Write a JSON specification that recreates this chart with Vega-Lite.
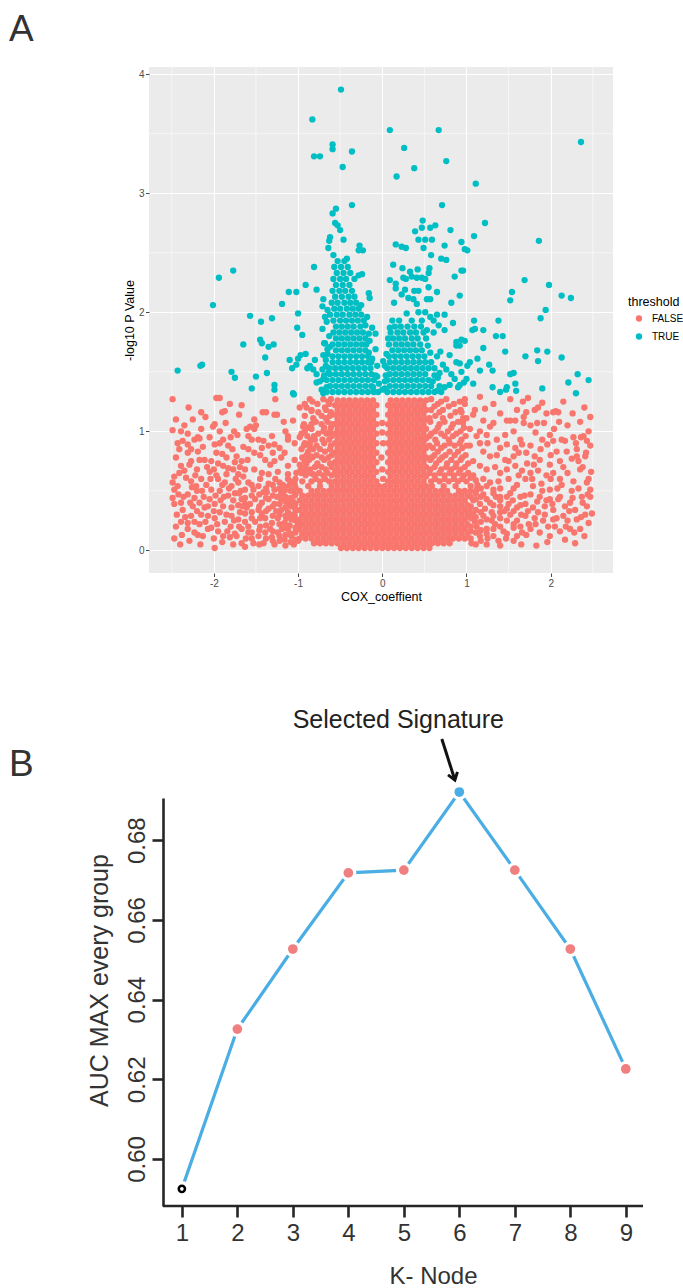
{
"$schema":"https://vega.github.io/schema/vega-lite/v6.json",
"padding":{"left":9,"top":10,"right":5,"bottom":5},
"bounds":"flush",
"spacing":225,
"background":"white",
"config":{"font":"Liberation Sans","view":{"stroke":null}},
"datasets":{
"gx":[{"x":-2.5},{"x":-1.5},{"x":-0.5},{"x":0.5},{"x":1.5},{"x":2.5}],
"gy":[{"y":0.5},{"y":1.5},{"y":2.5},{"y":3.5}],
"auc":[{"k":1,"auc":0.5925},{"k":2,"auc":0.6326},{"k":3,"auc":0.6527},{"k":4,"auc":0.6718},{"k":5,"auc":0.6725},{"k":6,"auc":0.6921},{"k":7,"auc":0.6725},{"k":8,"auc":0.6527},{"k":9,"auc":0.6226}],
"f":[
{"x":-0.49,"y":0.02},{"x":-0.42,"y":0.02},{"x":-0.35,"y":0.02},{"x":-0.28,"y":0.02},{"x":-0.21,"y":0.02},{"x":-0.14,"y":0.02},{"x":-0.07,"y":0.02},{"x":0,"y":0.02},{"x":0.07,"y":0.02},{"x":0.14,"y":0.02},{"x":0.21,"y":0.02},{"x":0.28,"y":0.02},{"x":0.35,"y":0.02},{"x":0.42,"y":0.02},{"x":0.49,"y":0.02},{"x":0.56,"y":0.02},
{"x":-0.81,"y":0.06},{"x":-0.74,"y":0.06},{"x":-0.67,"y":0.06},{"x":-0.6,"y":0.06},{"x":-0.53,"y":0.06},{"x":-0.46,"y":0.06},{"x":-0.39,"y":0.06},{"x":-0.32,"y":0.06},{"x":-0.25,"y":0.06},{"x":-0.18,"y":0.06},{"x":-0.11,"y":0.06},{"x":-0.04,"y":0.06},{"x":0.03,"y":0.06},{"x":0.1,"y":0.06},{"x":0.17,"y":0.06},{"x":0.24,"y":0.06},{"x":0.31,"y":0.06},{"x":0.38,"y":0.06},{"x":0.45,"y":0.06},{"x":0.52,"y":0.06},{"x":0.59,"y":0.06},{"x":0.66,"y":0.06},{"x":0.73,"y":0.06},{"x":0.8,"y":0.06},
{"x":-0.98,"y":0.1},{"x":-0.91,"y":0.1},{"x":-0.84,"y":0.1},{"x":-0.77,"y":0.1},{"x":-0.7,"y":0.1},{"x":-0.63,"y":0.1},{"x":-0.56,"y":0.1},{"x":-0.49,"y":0.1},{"x":-0.42,"y":0.1},{"x":-0.35,"y":0.1},{"x":-0.28,"y":0.1},{"x":-0.21,"y":0.1},{"x":-0.14,"y":0.1},{"x":-0.07,"y":0.1},{"x":0,"y":0.1},{"x":0.07,"y":0.1},{"x":0.14,"y":0.1},{"x":0.21,"y":0.1},{"x":0.28,"y":0.1},{"x":0.35,"y":0.1},{"x":0.42,"y":0.1},{"x":0.49,"y":0.1},{"x":0.56,"y":0.1},{"x":0.63,"y":0.1},{"x":0.7,"y":0.1},{"x":0.77,"y":0.1},{"x":0.84,"y":0.1},{"x":0.91,"y":0.1},{"x":0.98,"y":0.1},
{"x":-0.95,"y":0.14},{"x":-0.88,"y":0.14},{"x":-0.81,"y":0.14},{"x":-0.74,"y":0.14},{"x":-0.67,"y":0.14},{"x":-0.6,"y":0.14},{"x":-0.53,"y":0.14},{"x":-0.46,"y":0.14},{"x":-0.39,"y":0.14},{"x":-0.32,"y":0.14},{"x":-0.25,"y":0.14},{"x":-0.18,"y":0.14},{"x":-0.11,"y":0.14},{"x":-0.04,"y":0.14},{"x":0.03,"y":0.14},{"x":0.1,"y":0.14},{"x":0.17,"y":0.14},{"x":0.24,"y":0.14},{"x":0.31,"y":0.14},{"x":0.38,"y":0.14},{"x":0.45,"y":0.14},{"x":0.52,"y":0.14},{"x":0.59,"y":0.14},{"x":0.66,"y":0.14},{"x":0.73,"y":0.14},{"x":0.8,"y":0.14},{"x":0.87,"y":0.14},{"x":0.94,"y":0.14},{"x":1.01,"y":0.14},
{"x":-0.98,"y":0.18},{"x":-0.91,"y":0.18},{"x":-0.84,"y":0.18},{"x":-0.77,"y":0.18},{"x":-0.7,"y":0.18},{"x":-0.63,"y":0.18},{"x":-0.56,"y":0.18},{"x":-0.49,"y":0.18},{"x":-0.42,"y":0.18},{"x":-0.35,"y":0.18},{"x":-0.28,"y":0.18},{"x":-0.21,"y":0.18},{"x":-0.14,"y":0.18},{"x":-0.07,"y":0.18},{"x":0,"y":0.18},{"x":0.07,"y":0.18},{"x":0.14,"y":0.18},{"x":0.21,"y":0.18},{"x":0.28,"y":0.18},{"x":0.35,"y":0.18},{"x":0.42,"y":0.18},{"x":0.49,"y":0.18},{"x":0.56,"y":0.18},{"x":0.63,"y":0.18},{"x":0.7,"y":0.18},{"x":0.77,"y":0.18},{"x":0.84,"y":0.18},{"x":0.91,"y":0.18},{"x":0.98,"y":0.18},
{"x":-0.95,"y":0.22},{"x":-0.88,"y":0.22},{"x":-0.81,"y":0.22},{"x":-0.74,"y":0.22},{"x":-0.67,"y":0.22},{"x":-0.6,"y":0.22},{"x":-0.53,"y":0.22},{"x":-0.46,"y":0.22},{"x":-0.39,"y":0.22},{"x":-0.32,"y":0.22},{"x":-0.25,"y":0.22},{"x":-0.18,"y":0.22},{"x":-0.11,"y":0.22},{"x":-0.04,"y":0.22},{"x":0.03,"y":0.22},{"x":0.1,"y":0.22},{"x":0.17,"y":0.22},{"x":0.24,"y":0.22},{"x":0.31,"y":0.22},{"x":0.38,"y":0.22},{"x":0.45,"y":0.22},{"x":0.52,"y":0.22},{"x":0.59,"y":0.22},{"x":0.66,"y":0.22},{"x":0.73,"y":0.22},{"x":0.8,"y":0.22},{"x":0.87,"y":0.22},{"x":0.94,"y":0.22},{"x":1.01,"y":0.22},
{"x":-0.98,"y":0.26},{"x":-0.91,"y":0.26},{"x":-0.84,"y":0.26},{"x":-0.77,"y":0.26},{"x":-0.7,"y":0.26},{"x":-0.63,"y":0.26},{"x":-0.56,"y":0.26},{"x":-0.49,"y":0.26},{"x":-0.42,"y":0.26},{"x":-0.35,"y":0.26},{"x":-0.28,"y":0.26},{"x":-0.21,"y":0.26},{"x":-0.14,"y":0.26},{"x":-0.07,"y":0.26},{"x":0,"y":0.26},{"x":0.07,"y":0.26},{"x":0.14,"y":0.26},{"x":0.21,"y":0.26},{"x":0.28,"y":0.26},{"x":0.35,"y":0.26},{"x":0.42,"y":0.26},{"x":0.49,"y":0.26},{"x":0.56,"y":0.26},{"x":0.63,"y":0.26},{"x":0.7,"y":0.26},{"x":0.77,"y":0.26},{"x":0.84,"y":0.26},{"x":0.91,"y":0.26},{"x":0.98,"y":0.26},
{"x":-0.95,"y":0.3},{"x":-0.88,"y":0.3},{"x":-0.81,"y":0.3},{"x":-0.74,"y":0.3},{"x":-0.67,"y":0.3},{"x":-0.6,"y":0.3},{"x":-0.53,"y":0.3},{"x":-0.46,"y":0.3},{"x":-0.39,"y":0.3},{"x":-0.32,"y":0.3},{"x":-0.25,"y":0.3},{"x":-0.18,"y":0.3},{"x":-0.11,"y":0.3},{"x":-0.04,"y":0.3},{"x":0.03,"y":0.3},{"x":0.1,"y":0.3},{"x":0.17,"y":0.3},{"x":0.24,"y":0.3},{"x":0.31,"y":0.3},{"x":0.38,"y":0.3},{"x":0.45,"y":0.3},{"x":0.52,"y":0.3},{"x":0.59,"y":0.3},{"x":0.66,"y":0.3},{"x":0.73,"y":0.3},{"x":0.8,"y":0.3},{"x":0.87,"y":0.3},{"x":0.94,"y":0.3},{"x":1.01,"y":0.3},
{"x":-0.98,"y":0.34},{"x":-0.91,"y":0.34},{"x":-0.84,"y":0.34},{"x":-0.77,"y":0.34},{"x":-0.7,"y":0.34},{"x":-0.63,"y":0.34},{"x":-0.56,"y":0.34},{"x":-0.49,"y":0.34},{"x":-0.42,"y":0.34},{"x":-0.35,"y":0.34},{"x":-0.28,"y":0.34},{"x":-0.21,"y":0.34},{"x":-0.14,"y":0.34},{"x":-0.07,"y":0.34},{"x":0,"y":0.34},{"x":0.07,"y":0.34},{"x":0.14,"y":0.34},{"x":0.21,"y":0.34},{"x":0.28,"y":0.34},{"x":0.35,"y":0.34},{"x":0.42,"y":0.34},{"x":0.49,"y":0.34},{"x":0.56,"y":0.34},{"x":0.63,"y":0.34},{"x":0.7,"y":0.34},{"x":0.77,"y":0.34},{"x":0.84,"y":0.34},{"x":0.91,"y":0.34},{"x":0.98,"y":0.34},
{"x":-0.95,"y":0.38},{"x":-0.88,"y":0.38},{"x":-0.81,"y":0.38},{"x":-0.74,"y":0.38},{"x":-0.67,"y":0.38},{"x":-0.6,"y":0.38},{"x":-0.53,"y":0.38},{"x":-0.46,"y":0.38},{"x":-0.39,"y":0.38},{"x":-0.32,"y":0.38},{"x":-0.25,"y":0.38},{"x":-0.18,"y":0.38},{"x":-0.11,"y":0.38},{"x":-0.04,"y":0.38},{"x":0.03,"y":0.38},{"x":0.1,"y":0.38},{"x":0.17,"y":0.38},{"x":0.24,"y":0.38},{"x":0.31,"y":0.38},{"x":0.38,"y":0.38},{"x":0.45,"y":0.38},{"x":0.52,"y":0.38},{"x":0.59,"y":0.38},{"x":0.66,"y":0.38},{"x":0.73,"y":0.38},{"x":0.8,"y":0.38},{"x":0.87,"y":0.38},{"x":0.94,"y":0.38},{"x":1.01,"y":0.38},
{"x":-0.98,"y":0.42},{"x":-0.91,"y":0.42},{"x":-0.84,"y":0.42},{"x":-0.77,"y":0.42},{"x":-0.7,"y":0.42},{"x":-0.63,"y":0.42},{"x":-0.56,"y":0.42},{"x":-0.49,"y":0.42},{"x":-0.42,"y":0.42},{"x":-0.35,"y":0.42},{"x":-0.28,"y":0.42},{"x":-0.21,"y":0.42},{"x":-0.14,"y":0.42},{"x":-0.07,"y":0.42},{"x":0,"y":0.42},{"x":0.07,"y":0.42},{"x":0.14,"y":0.42},{"x":0.21,"y":0.42},{"x":0.28,"y":0.42},{"x":0.35,"y":0.42},{"x":0.42,"y":0.42},{"x":0.49,"y":0.42},{"x":0.56,"y":0.42},{"x":0.63,"y":0.42},{"x":0.7,"y":0.42},{"x":0.77,"y":0.42},{"x":0.84,"y":0.42},{"x":0.91,"y":0.42},{"x":0.98,"y":0.42},
{"x":-0.95,"y":0.46},{"x":-0.88,"y":0.46},{"x":-0.81,"y":0.46},{"x":-0.74,"y":0.46},{"x":-0.67,"y":0.46},{"x":-0.6,"y":0.46},{"x":-0.53,"y":0.46},{"x":-0.46,"y":0.46},{"x":-0.39,"y":0.46},{"x":-0.32,"y":0.46},{"x":-0.25,"y":0.46},{"x":-0.18,"y":0.46},{"x":-0.11,"y":0.46},{"x":-0.04,"y":0.46},{"x":0.03,"y":0.46},{"x":0.1,"y":0.46},{"x":0.17,"y":0.46},{"x":0.24,"y":0.46},{"x":0.31,"y":0.46},{"x":0.38,"y":0.46},{"x":0.45,"y":0.46},{"x":0.52,"y":0.46},{"x":0.59,"y":0.46},{"x":0.66,"y":0.46},{"x":0.73,"y":0.46},{"x":0.8,"y":0.46},{"x":0.87,"y":0.46},{"x":0.94,"y":0.46},{"x":1.01,"y":0.46},
{"x":-0.98,"y":0.5},{"x":-0.84,"y":0.5},{"x":-0.77,"y":0.5},{"x":-0.7,"y":0.5},{"x":-0.63,"y":0.5},{"x":-0.56,"y":0.5},{"x":-0.49,"y":0.5},{"x":-0.42,"y":0.5},{"x":-0.35,"y":0.5},{"x":-0.28,"y":0.5},{"x":-0.21,"y":0.5},{"x":-0.14,"y":0.5},{"x":-0.07,"y":0.5},{"x":0,"y":0.5},{"x":0.07,"y":0.5},{"x":0.14,"y":0.5},{"x":0.21,"y":0.5},{"x":0.28,"y":0.5},{"x":0.35,"y":0.5},{"x":0.42,"y":0.5},{"x":0.49,"y":0.5},{"x":0.56,"y":0.5},{"x":0.63,"y":0.5},{"x":0.7,"y":0.5},{"x":0.77,"y":0.5},{"x":0.91,"y":0.5},{"x":0.98,"y":0.5},
{"x":-0.88,"y":0.54},{"x":-0.74,"y":0.54},{"x":-0.6,"y":0.54},{"x":-0.53,"y":0.54},{"x":-0.46,"y":0.54},{"x":-0.39,"y":0.54},{"x":-0.32,"y":0.54},{"x":-0.25,"y":0.54},{"x":-0.18,"y":0.54},{"x":-0.11,"y":0.54},{"x":-0.04,"y":0.54},{"x":0.03,"y":0.54},{"x":0.1,"y":0.54},{"x":0.17,"y":0.54},{"x":0.24,"y":0.54},{"x":0.31,"y":0.54},{"x":0.38,"y":0.54},{"x":0.45,"y":0.54},{"x":0.52,"y":0.54},{"x":0.59,"y":0.54},{"x":0.73,"y":0.54},{"x":0.87,"y":0.54},
{"x":-0.56,"y":0.58},{"x":-0.49,"y":0.58},{"x":-0.42,"y":0.58},{"x":-0.35,"y":0.58},{"x":-0.28,"y":0.58},{"x":-0.21,"y":0.58},{"x":-0.14,"y":0.58},{"x":-0.07,"y":0.58},{"x":0.07,"y":0.58},{"x":0.14,"y":0.58},{"x":0.21,"y":0.58},{"x":0.28,"y":0.58},{"x":0.35,"y":0.58},{"x":0.42,"y":0.58},{"x":0.49,"y":0.58},
{"x":-0.53,"y":0.62},{"x":-0.46,"y":0.62},{"x":-0.39,"y":0.62},{"x":-0.32,"y":0.62},{"x":-0.25,"y":0.62},{"x":-0.18,"y":0.62},{"x":-0.11,"y":0.62},{"x":0.1,"y":0.62},{"x":0.17,"y":0.62},{"x":0.24,"y":0.62},{"x":0.31,"y":0.62},{"x":0.38,"y":0.62},{"x":0.45,"y":0.62},{"x":0.52,"y":0.62},
{"x":-0.56,"y":0.66},{"x":-0.49,"y":0.66},{"x":-0.42,"y":0.66},{"x":-0.35,"y":0.66},{"x":-0.28,"y":0.66},{"x":-0.21,"y":0.66},{"x":-0.14,"y":0.66},{"x":-0.07,"y":0.66},{"x":0.07,"y":0.66},{"x":0.14,"y":0.66},{"x":0.21,"y":0.66},{"x":0.28,"y":0.66},{"x":0.35,"y":0.66},{"x":0.42,"y":0.66},{"x":0.49,"y":0.66},
{"x":-0.53,"y":0.7},{"x":-0.46,"y":0.7},{"x":-0.39,"y":0.7},{"x":-0.32,"y":0.7},{"x":-0.25,"y":0.7},{"x":-0.18,"y":0.7},{"x":-0.11,"y":0.7},{"x":0.1,"y":0.7},{"x":0.17,"y":0.7},{"x":0.24,"y":0.7},{"x":0.31,"y":0.7},{"x":0.38,"y":0.7},{"x":0.45,"y":0.7},{"x":0.52,"y":0.7},
{"x":-0.56,"y":0.74},{"x":-0.49,"y":0.74},{"x":-0.42,"y":0.74},{"x":-0.35,"y":0.74},{"x":-0.28,"y":0.74},{"x":-0.21,"y":0.74},{"x":-0.14,"y":0.74},{"x":-0.07,"y":0.74},{"x":0.07,"y":0.74},{"x":0.14,"y":0.74},{"x":0.21,"y":0.74},{"x":0.28,"y":0.74},{"x":0.35,"y":0.74},{"x":0.42,"y":0.74},{"x":0.49,"y":0.74},
{"x":-0.53,"y":0.78},{"x":-0.46,"y":0.78},{"x":-0.39,"y":0.78},{"x":-0.32,"y":0.78},{"x":-0.25,"y":0.78},{"x":-0.18,"y":0.78},{"x":-0.11,"y":0.78},{"x":0.1,"y":0.78},{"x":0.17,"y":0.78},{"x":0.24,"y":0.78},{"x":0.31,"y":0.78},{"x":0.38,"y":0.78},{"x":0.45,"y":0.78},{"x":0.52,"y":0.78},
{"x":-0.56,"y":0.82},{"x":-0.49,"y":0.82},{"x":-0.42,"y":0.82},{"x":-0.35,"y":0.82},{"x":-0.28,"y":0.82},{"x":-0.21,"y":0.82},{"x":-0.14,"y":0.82},{"x":-0.07,"y":0.82},{"x":0.07,"y":0.82},{"x":0.14,"y":0.82},{"x":0.21,"y":0.82},{"x":0.28,"y":0.82},{"x":0.35,"y":0.82},{"x":0.42,"y":0.82},{"x":0.49,"y":0.82},
{"x":-0.53,"y":0.86},{"x":-0.46,"y":0.86},{"x":-0.39,"y":0.86},{"x":-0.32,"y":0.86},{"x":-0.25,"y":0.86},{"x":-0.18,"y":0.86},{"x":-0.11,"y":0.86},{"x":0.1,"y":0.86},{"x":0.17,"y":0.86},{"x":0.24,"y":0.86},{"x":0.31,"y":0.86},{"x":0.38,"y":0.86},{"x":0.45,"y":0.86},{"x":0.52,"y":0.86},
{"x":-0.56,"y":0.9},{"x":-0.49,"y":0.9},{"x":-0.42,"y":0.9},{"x":-0.35,"y":0.9},{"x":-0.28,"y":0.9},{"x":-0.21,"y":0.9},{"x":-0.14,"y":0.9},{"x":-0.07,"y":0.9},{"x":0.07,"y":0.9},{"x":0.14,"y":0.9},{"x":0.21,"y":0.9},{"x":0.28,"y":0.9},{"x":0.35,"y":0.9},{"x":0.42,"y":0.9},{"x":0.49,"y":0.9},
{"x":-0.53,"y":0.94},{"x":-0.46,"y":0.94},{"x":-0.39,"y":0.94},{"x":-0.32,"y":0.94},{"x":-0.25,"y":0.94},{"x":-0.18,"y":0.94},{"x":-0.11,"y":0.94},{"x":0.1,"y":0.94},{"x":0.17,"y":0.94},{"x":0.24,"y":0.94},{"x":0.31,"y":0.94},{"x":0.38,"y":0.94},{"x":0.45,"y":0.94},{"x":0.52,"y":0.94},
{"x":-0.56,"y":0.98},{"x":-0.49,"y":0.98},{"x":-0.42,"y":0.98},{"x":-0.35,"y":0.98},{"x":-0.28,"y":0.98},{"x":-0.21,"y":0.98},{"x":-0.14,"y":0.98},{"x":-0.07,"y":0.98},{"x":0.07,"y":0.98},{"x":0.14,"y":0.98},{"x":0.21,"y":0.98},{"x":0.28,"y":0.98},{"x":0.35,"y":0.98},{"x":0.42,"y":0.98},{"x":0.49,"y":0.98},
{"x":-0.53,"y":1.02},{"x":-0.46,"y":1.02},{"x":-0.39,"y":1.02},{"x":-0.32,"y":1.02},{"x":-0.25,"y":1.02},{"x":-0.18,"y":1.02},{"x":-0.11,"y":1.02},{"x":0.1,"y":1.02},{"x":0.17,"y":1.02},{"x":0.24,"y":1.02},{"x":0.31,"y":1.02},{"x":0.38,"y":1.02},{"x":0.45,"y":1.02},{"x":0.52,"y":1.02},
{"x":-0.56,"y":1.06},{"x":-0.49,"y":1.06},{"x":-0.42,"y":1.06},{"x":-0.35,"y":1.06},{"x":-0.28,"y":1.06},{"x":-0.21,"y":1.06},{"x":-0.14,"y":1.06},{"x":-0.07,"y":1.06},{"x":0.07,"y":1.06},{"x":0.14,"y":1.06},{"x":0.21,"y":1.06},{"x":0.28,"y":1.06},{"x":0.35,"y":1.06},{"x":0.42,"y":1.06},{"x":0.49,"y":1.06},
{"x":-0.53,"y":1.1},{"x":-0.46,"y":1.1},{"x":-0.39,"y":1.1},{"x":-0.32,"y":1.1},{"x":-0.25,"y":1.1},{"x":-0.18,"y":1.1},{"x":-0.11,"y":1.1},{"x":0.1,"y":1.1},{"x":0.17,"y":1.1},{"x":0.24,"y":1.1},{"x":0.31,"y":1.1},{"x":0.38,"y":1.1},{"x":0.45,"y":1.1},{"x":0.52,"y":1.1},
{"x":-0.56,"y":1.14},{"x":-0.49,"y":1.14},{"x":-0.42,"y":1.14},{"x":-0.35,"y":1.14},{"x":-0.28,"y":1.14},{"x":-0.21,"y":1.14},{"x":-0.14,"y":1.14},{"x":-0.07,"y":1.14},{"x":0.07,"y":1.14},{"x":0.14,"y":1.14},{"x":0.21,"y":1.14},{"x":0.28,"y":1.14},{"x":0.35,"y":1.14},{"x":0.42,"y":1.14},{"x":0.49,"y":1.14},
{"x":-0.53,"y":1.18},{"x":-0.46,"y":1.18},{"x":-0.39,"y":1.18},{"x":-0.32,"y":1.18},{"x":-0.25,"y":1.18},{"x":-0.18,"y":1.18},{"x":-0.11,"y":1.18},{"x":0.1,"y":1.18},{"x":0.17,"y":1.18},{"x":0.24,"y":1.18},{"x":0.31,"y":1.18},{"x":0.38,"y":1.18},{"x":0.45,"y":1.18},{"x":0.52,"y":1.18},
{"x":-0.56,"y":1.22},{"x":-0.49,"y":1.22},{"x":-0.42,"y":1.22},{"x":-0.35,"y":1.22},{"x":-0.28,"y":1.22},{"x":-0.21,"y":1.22},{"x":-0.14,"y":1.22},{"x":-0.07,"y":1.22},{"x":0.07,"y":1.22},{"x":0.14,"y":1.22},{"x":0.21,"y":1.22},{"x":0.28,"y":1.22},{"x":0.35,"y":1.22},{"x":0.42,"y":1.22},{"x":0.49,"y":1.22},
{"x":-0.53,"y":1.26},{"x":-0.46,"y":1.26},{"x":-0.39,"y":1.26},{"x":-0.32,"y":1.26},{"x":-0.25,"y":1.26},{"x":-0.18,"y":1.26},{"x":-0.11,"y":1.26},{"x":0.1,"y":1.26},{"x":0.17,"y":1.26},{"x":0.24,"y":1.26},{"x":0.31,"y":1.26},{"x":0.38,"y":1.26},{"x":0.45,"y":1.26},{"x":0.52,"y":1.26},
{"x":0,"y":0.99},{"x":0.01,"y":0.9},{"x":-0.01,"y":0.78},{"x":0,"y":0.68},{"x":0.01,"y":0.6},{"x":0,"y":1.07},
{"x":-0.95,"y":0.58},{"x":-0.84,"y":0.58},{"x":-0.74,"y":0.58},{"x":-0.63,"y":0.58},{"x":-0.91,"y":0.63},{"x":-0.8,"y":0.63},{"x":-0.7,"y":0.63},{"x":-0.6,"y":0.63},{"x":-0.97,"y":0.68},{"x":-0.86,"y":0.68},{"x":-0.67,"y":0.68},{"x":-0.9,"y":0.73},{"x":-0.77,"y":0.73},{"x":-0.62,"y":0.73},{"x":-0.95,"y":0.78},{"x":-0.83,"y":0.78},{"x":-0.72,"y":0.78},{"x":-0.64,"y":0.78},{"x":-0.88,"y":0.83},{"x":-0.68,"y":0.83},{"x":-0.93,"y":0.88},{"x":-0.78,"y":0.88},{"x":-0.61,"y":0.88},{"x":-0.85,"y":0.93},{"x":-0.71,"y":0.93},{"x":-0.63,"y":0.93},{"x":-0.96,"y":0.98},{"x":-0.76,"y":0.98},{"x":-0.66,"y":0.98},{"x":-0.88,"y":1.03},{"x":-0.69,"y":1.03},{"x":-0.61,"y":1.03},{"x":-0.79,"y":1.08},{"x":-0.65,"y":1.08},{"x":-0.92,"y":1.13},{"x":-0.72,"y":1.13},{"x":-0.62,"y":1.13},{"x":-0.84,"y":1.18},{"x":-0.67,"y":1.18},{"x":-0.77,"y":1.23},{"x":-0.63,"y":1.23},{"x":-0.86,"y":1.27},{"x":-0.7,"y":1.27},{"x":-0.61,"y":1.27},
{"x":-0.79,"y":0.6},{"x":-0.68,"y":0.6},{"x":-0.96,"y":0.65},{"x":-0.85,"y":0.65},{"x":-0.75,"y":0.65},{"x":-0.65,"y":0.65},{"x":-0.92,"y":0.7},{"x":-0.8,"y":0.7},{"x":-0.72,"y":0.7},{"x":-0.6,"y":0.7},{"x":-0.87,"y":0.76},{"x":-0.69,"y":0.76},{"x":-0.9,"y":0.8},{"x":-0.78,"y":0.8},{"x":-0.6,"y":0.8},{"x":-0.96,"y":0.85},{"x":-0.82,"y":0.85},{"x":-0.74,"y":0.85},{"x":-0.62,"y":0.85},{"x":-0.86,"y":0.9},{"x":-0.69,"y":0.9},{"x":-0.89,"y":0.96},{"x":-0.81,"y":0.96},{"x":-0.6,"y":0.96},{"x":-0.7,"y":1.0},{"x":-0.62,"y":1.0},{"x":-0.93,"y":1.06},{"x":-0.84,"y":1.06},{"x":-0.72,"y":1.06},{"x":-0.6,"y":1.06},{"x":-0.82,"y":1.11},{"x":-0.67,"y":1.11},{"x":-0.76,"y":1.16},{"x":-0.61,"y":1.16},{"x":-0.9,"y":1.2},{"x":-0.68,"y":1.2},{"x":-0.83,"y":1.25},{"x":-0.64,"y":1.25},
{"x":0.58,"y":0.58},{"x":0.68,"y":0.58},{"x":0.79,"y":0.58},{"x":0.9,"y":0.58},{"x":1.0,"y":0.58},{"x":0.62,"y":0.63},{"x":0.74,"y":0.63},{"x":0.85,"y":0.63},{"x":0.97,"y":0.63},{"x":0.57,"y":0.68},{"x":0.7,"y":0.68},{"x":0.82,"y":0.68},{"x":0.93,"y":0.68},{"x":0.64,"y":0.73},{"x":0.77,"y":0.73},{"x":0.88,"y":0.73},{"x":1.02,"y":0.73},{"x":0.59,"y":0.78},{"x":0.71,"y":0.78},{"x":0.95,"y":0.78},{"x":0.66,"y":0.83},{"x":0.8,"y":0.83},{"x":0.9,"y":0.83},{"x":0.56,"y":0.88},{"x":0.74,"y":0.88},{"x":0.86,"y":0.88},{"x":1.0,"y":0.88},{"x":0.63,"y":0.93},{"x":0.79,"y":0.93},{"x":0.94,"y":0.93},{"x":0.58,"y":0.98},{"x":0.7,"y":0.98},{"x":0.88,"y":0.98},{"x":0.66,"y":1.03},{"x":0.82,"y":1.03},{"x":0.97,"y":1.03},{"x":0.57,"y":1.08},{"x":0.74,"y":1.08},{"x":0.9,"y":1.08},{"x":0.63,"y":1.13},{"x":0.81,"y":1.13},{"x":0.58,"y":1.18},{"x":0.72,"y":1.18},{"x":0.93,"y":1.18},{"x":0.66,"y":1.23},{"x":0.85,"y":1.23},{"x":0.58,"y":1.27},{"x":0.76,"y":1.27},{"x":0.98,"y":1.27},
{"x":0.63,"y":0.6},{"x":0.74,"y":0.6},{"x":0.85,"y":0.6},{"x":0.95,"y":0.6},{"x":0.56,"y":0.65},{"x":0.68,"y":0.65},{"x":0.8,"y":0.65},{"x":0.91,"y":0.65},{"x":1.02,"y":0.65},{"x":0.62,"y":0.7},{"x":0.76,"y":0.7},{"x":0.87,"y":0.7},{"x":0.98,"y":0.7},{"x":0.57,"y":0.76},{"x":0.68,"y":0.76},{"x":0.82,"y":0.76},{"x":0.93,"y":0.76},{"x":0.62,"y":0.8},{"x":0.75,"y":0.8},{"x":0.86,"y":0.8},{"x":0.99,"y":0.8},{"x":0.6,"y":0.86},{"x":0.7,"y":0.86},{"x":0.95,"y":0.86},{"x":0.65,"y":0.9},{"x":0.8,"y":0.9},{"x":0.92,"y":0.9},{"x":0.56,"y":0.96},{"x":0.74,"y":0.96},{"x":0.84,"y":0.96},{"x":0.99,"y":0.96},{"x":0.63,"y":1.0},{"x":0.78,"y":1.0},{"x":0.93,"y":1.0},{"x":0.68,"y":1.06},{"x":0.84,"y":1.06},{"x":0.56,"y":1.11},{"x":0.72,"y":1.11},{"x":0.96,"y":1.11},{"x":0.68,"y":1.16},{"x":0.87,"y":1.16},{"x":0.62,"y":1.21},{"x":0.79,"y":1.21},{"x":0.7,"y":1.25},{"x":0.92,"y":1.25},
{"x":-2.49,"y":1.27},{"x":-1.97,"y":1.28},{"x":-1.93,"y":1.28},{"x":-1.27,"y":1.27},{"x":-0.98,"y":1.2},{"x":-0.92,"y":1.23},{"x":-1.67,"y":1.22},{"x":-1.87,"y":1.17},{"x":-1.9,"y":1.16},{"x":-2.15,"y":1.16},{"x":-1.7,"y":1.14},{"x":-1.42,"y":1.16},{"x":-1.38,"y":1.16},{"x":-1.28,"y":1.14},{"x":-1.25,"y":1.14},{"x":-0.84,"y":1.17},
{"x":-1.52,"y":1.1},{"x":-1.17,"y":1.08},{"x":-1.06,"y":1.09},{"x":-0.81,"y":1.09},{"x":-2.49,"y":1.01},{"x":-2.39,"y":1.0},{"x":-2.31,"y":0.98},{"x":-2.15,"y":1.02},{"x":-2.19,"y":0.95},{"x":-1.99,"y":1.06},{"x":-2.01,"y":1.04},{"x":-1.76,"y":1.0},{"x":-1.61,"y":1.02},{"x":-1.57,"y":1.04},{"x":-1.52,"y":1.02},{"x":-1.5,"y":1.05},{"x":-1.15,"y":1.0},{"x":-1.12,"y":0.96},{"x":-0.94,"y":1.04},{"x":-0.92,"y":1.0},{"x":-0.84,"y":1.02},
{"x":-2.41,"y":0.85},{"x":-2.31,"y":0.89},{"x":-2.23,"y":0.93},{"x":-2.17,"y":0.94},{"x":-2.31,"y":0.82},{"x":-2.27,"y":0.75},{"x":-2.29,"y":0.72},{"x":-2.19,"y":0.83},{"x":-2.17,"y":0.76},{"x":-2.11,"y":0.76},{"x":-2.03,"y":0.75},{"x":-1.95,"y":0.73},{"x":-1.89,"y":0.71},{"x":-1.83,"y":0.69},{"x":-1.77,"y":0.68},{"x":-1.99,"y":0.89},{"x":-1.93,"y":0.9},{"x":-1.89,"y":0.93},{"x":-1.83,"y":0.88},{"x":-1.97,"y":0.82},{"x":-1.9,"y":0.81},{"x":-1.73,"y":0.79},{"x":-1.67,"y":0.75},{"x":-1.63,"y":0.68},{"x":-1.59,"y":0.96},{"x":-1.55,"y":0.93},{"x":-1.47,"y":0.93},{"x":-1.41,"y":0.92},{"x":-1.35,"y":0.88},{"x":-1.31,"y":0.96},{"x":-1.59,"y":0.85},{"x":-1.52,"y":0.82},{"x":-1.43,"y":0.86},{"x":-1.75,"y":0.74},{"x":-1.71,"y":0.64},{"x":-1.28,"y":0.89},{"x":-1.22,"y":0.86},{"x":-1.16,"y":0.82},{"x":-1.12,"y":0.93},{"x":-1.04,"y":0.9},{"x":-0.98,"y":0.95},{"x":-0.92,"y":0.9},{"x":-0.86,"y":0.87},{"x":-0.8,"y":0.93},{"x":-1.39,"y":0.76},{"x":-1.33,"y":0.72},{"x":-1.28,"y":0.75},{"x":-1.2,"y":0.78},{"x":-1.12,"y":0.71},{"x":-1.04,"y":0.76},{"x":-0.98,"y":0.72},{"x":-0.92,"y":0.75},{"x":-0.84,"y":0.79},{"x":-0.78,"y":0.71},{"x":-1.52,"y":0.68},{"x":-1.43,"y":0.65},{"x":-1.35,"y":0.64},{"x":-1.24,"y":0.66},{"x":-1.12,"y":0.64},{"x":-1.02,"y":0.65},{"x":-0.92,"y":0.66},{"x":-0.82,"y":0.64},{"x":-2.39,"y":0.71},{"x":-2.41,"y":0.65},{"x":-2.35,"y":0.67},
{"x":-2.49,"y":0.57},{"x":-2.47,"y":0.51},{"x":-2.43,"y":0.54},{"x":-2.49,"y":0.44},{"x":-2.47,"y":0.39},{"x":-2.39,"y":0.4},{"x":-2.37,"y":0.34},{"x":-2.39,"y":0.24},{"x":-2.31,"y":0.23},{"x":-2.27,"y":0.29},{"x":-2.23,"y":0.24},{"x":-2.17,"y":0.22},{"x":-2.29,"y":0.08},{"x":-2.23,"y":0.15},{"x":-2.13,"y":0.12},{"x":-2.07,"y":0.18},{"x":-2.31,"y":0.18},{"x":-2.33,"y":0.61},{"x":-2.27,"y":0.58},{"x":-2.21,"y":0.54},{"x":-2.15,"y":0.6},{"x":-2.09,"y":0.55},{"x":-2.03,"y":0.51},{"x":-2.31,"y":0.47},{"x":-2.23,"y":0.44},{"x":-2.17,"y":0.4},{"x":-2.25,"y":0.37},{"x":-2.11,"y":0.36},{"x":-2.05,"y":0.43},{"x":-1.99,"y":0.39},{"x":-2.15,"y":0.3},{"x":-2.07,"y":0.29},{"x":-1.99,"y":0.27},{"x":-1.93,"y":0.32},{"x":-1.87,"y":0.24},{"x":-1.79,"y":0.29},{"x":-1.71,"y":0.26},{"x":-2.03,"y":0.19},{"x":-1.95,"y":0.16},{"x":-1.89,"y":0.12},{"x":-1.81,"y":0.11},{"x":-1.73,"y":0.12},{"x":-1.67,"y":0.18},{"x":-1.59,"y":0.15},{"x":-1.95,"y":0.6},{"x":-1.87,"y":0.57},{"x":-1.79,"y":0.54},{"x":-1.71,"y":0.57},{"x":-1.63,"y":0.51},{"x":-1.93,"y":0.5},{"x":-1.83,"y":0.46},{"x":-1.75,"y":0.48},{"x":-1.67,"y":0.43},{"x":-1.89,"y":0.37},{"x":-1.79,"y":0.36},{"x":-1.71,"y":0.38},{"x":-1.61,"y":0.36},{"x":-1.55,"y":0.32},{"x":-1.47,"y":0.34},{"x":-1.59,"y":0.57},{"x":-1.53,"y":0.51},{"x":-1.47,"y":0.54},{"x":-1.41,"y":0.49},{"x":-1.35,"y":0.56},{"x":-1.28,"y":0.51},{"x":-1.22,"y":0.57},{"x":-1.16,"y":0.5},{"x":-1.51,"y":0.43},{"x":-1.43,"y":0.4},{"x":-1.35,"y":0.43},{"x":-1.28,"y":0.39},{"x":-1.2,"y":0.43},{"x":-1.12,"y":0.4},{"x":-1.04,"y":0.46},{"x":-1.51,"y":0.24},{"x":-1.45,"y":0.2},{"x":-1.39,"y":0.27},{"x":-1.31,"y":0.23},{"x":-1.24,"y":0.27},{"x":-1.16,"y":0.23},{"x":-1.08,"y":0.26},{"x":-1.0,"y":0.22},{"x":-1.47,"y":0.12},{"x":-1.39,"y":0.15},{"x":-1.31,"y":0.11},{"x":-1.24,"y":0.15},{"x":-1.16,"y":0.09},{"x":-1.08,"y":0.12},{"x":-1.0,"y":0.08},{"x":-1.53,"y":0.06},{"x":-1.41,"y":0.06},{"x":-1.28,"y":0.05},{"x":-1.12,"y":0.6},{"x":-1.04,"y":0.56},{"x":-1.2,"y":0.34},{"x":-1.12,"y":0.32},{"x":-1.04,"y":0.36},{"x":-1.63,"y":0.24},{"x":-1.59,"y":0.2},{"x":-1.67,"y":0.06},{"x":-1.75,"y":0.14},
{"x":-1.05,"y":0.05},{"x":-1.12,"y":0.18},{"x":-1.03,"y":0.15},{"x":-1.1,"y":0.21},{"x":-1.04,"y":0.29},{"x":-1.14,"y":0.27},{"x":-1.06,"y":0.41},{"x":-1.15,"y":0.45},{"x":-1.05,"y":0.51},{"x":-1.1,"y":0.55},{"x":-1.22,"y":0.08},{"x":-1.19,"y":0.18},{"x":-1.26,"y":0.33},{"x":-1.2,"y":0.48},
{"x":-1.03,"y":0.09},{"x":-1.03,"y":0.19},{"x":-1.03,"y":0.25},{"x":-1.03,"y":0.33},{"x":-1.03,"y":0.39},{"x":-1.03,"y":0.47},{"x":-1.03,"y":0.53},{"x":-1.03,"y":0.6},{"x":-1.09,"y":0.07},{"x":-1.09,"y":0.14},{"x":-1.09,"y":0.3},{"x":-1.09,"y":0.37},{"x":-1.09,"y":0.44},{"x":-1.09,"y":0.5},{"x":-1.09,"y":0.58},{"x":-1.15,"y":0.04},{"x":-1.15,"y":0.13},{"x":-1.15,"y":0.19},{"x":-1.15,"y":0.29},{"x":-1.15,"y":0.36},{"x":-1.15,"y":0.41},{"x":-1.15,"y":0.53},{"x":-1.22,"y":0.12},{"x":-1.22,"y":0.22},{"x":-1.22,"y":0.3},{"x":-1.22,"y":0.39},{"x":-1.22,"y":0.52},{"x":-1.3,"y":0.08},{"x":-1.3,"y":0.16},{"x":-1.3,"y":0.29},{"x":-1.3,"y":0.37},{"x":-1.3,"y":0.46},{"x":-1.3,"y":0.55},{"x":-1.38,"y":0.1},{"x":-1.38,"y":0.21},{"x":-1.38,"y":0.33},{"x":-1.38,"y":0.44},{"x":-1.38,"y":0.52},{"x":-1.46,"y":0.05},{"x":-1.46,"y":0.17},{"x":-1.46,"y":0.37},{"x":-1.46,"y":0.47},{"x":-1.55,"y":0.15},{"x":-1.55,"y":0.27},{"x":-1.55,"y":0.46},{"x":-1.55,"y":0.55},{"x":-1.63,"y":0.03},{"x":-1.63,"y":0.31},{"x":-1.63,"y":0.39},{"x":-1.7,"y":0.2},{"x":-1.7,"y":0.48},
{"x":-2.44,"y":0.3},{"x":-2.36,"y":0.45},{"x":-2.2,"y":0.5},{"x":-2.12,"y":0.45},{"x":-2.0,"y":0.33},{"x":-1.92,"y":0.42},{"x":-1.85,"y":0.3},{"x":-1.77,"y":0.42},{"x":-1.69,"y":0.32},{"x":-1.63,"y":0.44},{"x":-1.57,"y":0.39},{"x":-1.43,"y":0.31},{"x":-1.35,"y":0.35},{"x":-1.37,"y":0.49},{"x":-1.25,"y":0.45},{"x":-1.18,"y":0.55},{"x":-1.33,"y":0.18},{"x":-1.45,"y":0.27},{"x":-1.55,"y":0.1},{"x":-1.8,"y":0.2},{"x":-2.0,"y":0.1},{"x":-2.1,"y":0.24},{"x":-2.38,"y":0.13},{"x":-2.45,"y":0.2},{"x":-1.9,"y":0.07},{"x":-1.62,"y":0.1},{"x":-1.27,"y":0.6},{"x":-1.45,"y":0.6},{"x":-1.65,"y":0.62},{"x":-1.85,"y":0.64},{"x":-2.05,"y":0.66},{"x":-2.2,"y":0.68},{"x":-2.45,"y":0.78},{"x":-2.37,"y":0.92},{"x":-2.45,"y":1.1},{"x":-2.25,"y":1.1},{"x":-2.05,"y":0.95},{"x":-1.8,"y":0.95},{"x":-1.65,"y":0.87},{"x":-1.45,"y":0.8},{"x":-1.3,"y":0.82},{"x":-1.6,"y":0.76},{"x":-1.85,"y":0.78},{"x":-2.0,"y":0.68},
{"x":-2.47,"y":0.62},{"x":-2.42,"y":0.47},{"x":-2.34,"y":0.28},{"x":-2.28,"y":0.4},{"x":-2.26,"y":0.53},{"x":-2.2,"y":0.33},{"x":-2.19,"y":0.13},{"x":-2.14,"y":0.5},{"x":-2.07,"y":0.37},{"x":-2.04,"y":0.6},{"x":-1.98,"y":0.46},{"x":-1.96,"y":0.22},{"x":-1.9,"y":0.55},{"x":-1.88,"y":0.45},{"x":-1.84,"y":0.16},{"x":-1.82,"y":0.52},{"x":-1.76,"y":0.25},{"x":-1.74,"y":0.6},{"x":-1.68,"y":0.5},{"x":-1.66,"y":0.37},{"x":-2.43,"y":0.9},{"x":-2.35,"y":1.05},{"x":-2.27,"y":0.85},{"x":-2.22,"y":0.63},{"x":-2.13,"y":0.87},{"x":-2.08,"y":0.7},{"x":-1.97,"y":0.63},{"x":-1.93,"y":1.0},{"x":-1.86,"y":1.07},{"x":-1.78,"y":0.85},{"x":-1.72,"y":0.97},{"x":-1.69,"y":0.7},{"x":-2.3,"y":1.2},{"x":-2.1,"y":1.12},{"x":-1.81,"y":1.23},{"x":-2.47,"y":0.1},{"x":-2.4,"y":0.05},{"x":-2.16,"y":0.05},{"x":-1.99,"y":0.02},{"x":-1.77,"y":0.05},
{"x":1.16,"y":1.29},{"x":1.32,"y":1.23},{"x":1.22,"y":1.19},{"x":1.1,"y":1.18},{"x":1.08,"y":1.14},{"x":1.52,"y":1.27},{"x":1.67,"y":1.25},{"x":1.73,"y":1.28},{"x":1.71,"y":1.16},{"x":1.81,"y":1.18},{"x":1.85,"y":1.2},{"x":2.03,"y":1.16},{"x":2.06,"y":1.17},{"x":2.09,"y":1.16},{"x":2.47,"y":1.12},{"x":2.35,"y":1.08},{"x":0.98,"y":1.23},{"x":0.94,"y":1.16},{"x":1.52,"y":1.09},{"x":1.48,"y":1.09},{"x":1.58,"y":1.09},{"x":1.68,"y":1.07},{"x":1.76,"y":1.05},{"x":1.84,"y":1.07},{"x":1.92,"y":1.07},{"x":2.04,"y":1.02},{"x":1.32,"y":1.07},{"x":1.2,"y":1.09},{"x":1.0,"y":1.11},{"x":0.96,"y":1.07},{"x":1.04,"y":1.02},{"x":1.16,"y":1.0},{"x":1.28,"y":1.04},
{"x":1.12,"y":0.96},{"x":1.24,"y":0.97},{"x":1.36,"y":0.93},{"x":1.46,"y":0.97},{"x":1.56,"y":1.0},{"x":1.64,"y":0.93},{"x":2.03,"y":0.92},{"x":2.13,"y":0.93},{"x":2.27,"y":0.95},{"x":2.39,"y":0.96},{"x":2.43,"y":0.92},{"x":2.47,"y":0.88},{"x":1.4,"y":0.86},{"x":1.48,"y":0.89},{"x":1.58,"y":0.86},{"x":1.66,"y":0.89},{"x":1.76,"y":0.88},{"x":1.88,"y":0.85},{"x":1.96,"y":0.89},{"x":2.07,"y":0.83},{"x":2.19,"y":0.83},{"x":2.31,"y":0.85},{"x":2.31,"y":0.79},{"x":2.33,"y":0.75},{"x":2.35,"y":0.68},{"x":2.41,"y":0.79},{"x":1.04,"y":0.88},{"x":1.16,"y":0.9},{"x":1.2,"y":0.83},{"x":1.28,"y":0.79},{"x":1.36,"y":0.8},{"x":1.46,"y":0.76},{"x":1.56,"y":0.79},{"x":1.62,"y":0.82},{"x":1.71,"y":0.82},{"x":1.81,"y":0.79},{"x":1.87,"y":0.76},{"x":1.99,"y":0.72},{"x":2.11,"y":0.75},{"x":1.08,"y":0.75},{"x":1.16,"y":0.71},{"x":1.24,"y":0.68},{"x":1.34,"y":0.7},{"x":1.4,"y":0.65},{"x":1.48,"y":0.68},{"x":1.58,"y":0.71},{"x":1.66,"y":0.67},{"x":1.76,"y":0.65},{"x":1.85,"y":0.67},{"x":1.95,"y":0.63},{"x":2.03,"y":0.65},{"x":2.11,"y":0.6},{"x":2.27,"y":0.58},{"x":2.43,"y":0.57},{"x":2.47,"y":0.51},{"x":1.08,"y":0.63},{"x":1.2,"y":0.6},{"x":1.28,"y":0.57},{"x":1.38,"y":0.58},{"x":1.5,"y":0.6},{"x":1.6,"y":0.55},{"x":1.7,"y":0.6},{"x":1.79,"y":0.54},{"x":1.89,"y":0.56},{"x":1.99,"y":0.51},
{"x":1.12,"y":0.51},{"x":1.2,"y":0.47},{"x":1.32,"y":0.51},{"x":1.4,"y":0.45},{"x":1.52,"y":0.48},{"x":1.64,"y":0.45},{"x":1.76,"y":0.47},{"x":1.87,"y":0.45},{"x":1.99,"y":0.43},{"x":2.11,"y":0.45},{"x":2.23,"y":0.4},{"x":2.37,"y":0.45},{"x":2.47,"y":0.45},{"x":1.16,"y":0.39},{"x":1.28,"y":0.4},{"x":1.4,"y":0.37},{"x":1.5,"y":0.39},{"x":1.6,"y":0.36},{"x":1.7,"y":0.39},{"x":1.79,"y":0.36},{"x":1.93,"y":0.37},{"x":2.03,"y":0.34},{"x":2.17,"y":0.37},{"x":2.29,"y":0.34},{"x":2.43,"y":0.37},{"x":2.49,"y":0.31},{"x":1.08,"y":0.3},{"x":1.2,"y":0.29},{"x":1.3,"y":0.32},{"x":1.4,"y":0.27},{"x":1.52,"y":0.3},{"x":1.6,"y":0.25},{"x":1.7,"y":0.29},{"x":1.81,"y":0.27},{"x":1.91,"y":0.25},{"x":2.03,"y":0.26},{"x":2.15,"y":0.29},{"x":2.31,"y":0.26},{"x":2.41,"y":0.3},{"x":2.45,"y":0.23},{"x":1.12,"y":0.2},{"x":1.24,"y":0.18},{"x":1.34,"y":0.22},{"x":1.44,"y":0.16},{"x":1.56,"y":0.19},{"x":1.66,"y":0.15},{"x":1.76,"y":0.18},{"x":1.87,"y":0.15},{"x":1.97,"y":0.2},{"x":2.11,"y":0.16},{"x":2.23,"y":0.18},{"x":2.35,"y":0.18},{"x":1.16,"y":0.12},{"x":1.38,"y":0.08},{"x":1.6,"y":0.12},{"x":1.71,"y":0.13},{"x":1.83,"y":0.04},{"x":1.99,"y":0.12},{"x":2.17,"y":0.09},{"x":2.29,"y":0.06},
{"x":1.06,"y":0.06},{"x":1.05,"y":0.16},{"x":1.1,"y":0.24},{"x":1.04,"y":0.33},{"x":1.08,"y":0.42},{"x":1.05,"y":0.5},{"x":1.13,"y":0.55},{"x":1.25,"y":0.1},{"x":1.3,"y":0.25},{"x":1.22,"y":0.35},{"x":1.35,"y":0.45},{"x":1.45,"y":0.33},{"x":1.47,"y":0.1},{"x":1.55,"y":0.42},{"x":1.65,"y":0.3},{"x":1.74,"y":0.22},{"x":1.85,"y":0.32},{"x":1.95,"y":0.42},{"x":2.05,"y":0.2},{"x":2.2,"y":0.25},{"x":2.38,"y":0.4},{"x":2.45,"y":0.6},{"x":2.25,"y":0.5},{"x":2.08,"y":0.52},{"x":2.2,"y":0.65},{"x":2.3,"y":0.9},{"x":2.45,"y":1.0},{"x":2.2,"y":1.05},{"x":1.95,"y":1.15},{"x":1.6,"y":1.18},{"x":1.4,"y":1.15},{"x":1.25,"y":0.9},{"x":1.5,"y":0.75},{"x":1.8,"y":0.72},{"x":2.0,"y":0.8},{"x":2.15,"y":0.7},{"x":2.38,"y":0.7},
{"x":1.05,"y":0.1},{"x":1.05,"y":0.2},{"x":1.05,"y":0.27},{"x":1.05,"y":0.37},{"x":1.05,"y":0.45},{"x":1.05,"y":0.54},{"x":1.05,"y":0.61},{"x":1.11,"y":0.05},{"x":1.11,"y":0.15},{"x":1.11,"y":0.28},{"x":1.11,"y":0.34},{"x":1.11,"y":0.43},{"x":1.11,"y":0.48},{"x":1.11,"y":0.59},{"x":1.17,"y":0.08},{"x":1.17,"y":0.17},{"x":1.17,"y":0.24},{"x":1.17,"y":0.32},{"x":1.17,"y":0.45},{"x":1.17,"y":0.52},{"x":1.24,"y":0.05},{"x":1.24,"y":0.14},{"x":1.24,"y":0.26},{"x":1.24,"y":0.43},{"x":1.24,"y":0.54},{"x":1.32,"y":0.12},{"x":1.32,"y":0.18},{"x":1.32,"y":0.29},{"x":1.32,"y":0.38},{"x":1.32,"y":0.48},{"x":1.4,"y":0.04},{"x":1.4,"y":0.2},{"x":1.4,"y":0.32},{"x":1.4,"y":0.42},{"x":1.4,"y":0.52},{"x":1.48,"y":0.14},{"x":1.48,"y":0.25},{"x":1.48,"y":0.35},{"x":1.48,"y":0.45},{"x":1.56,"y":0.08},{"x":1.56,"y":0.22},{"x":1.56,"y":0.33},{"x":1.56,"y":0.52},{"x":1.64,"y":0.2},{"x":1.64,"y":0.38},
{"x":1.65,"y":0.05},{"x":1.69,"y":0.46},{"x":1.73,"y":0.33},{"x":1.78,"y":0.6},{"x":1.82,"y":0.22},{"x":1.84,"y":0.41},{"x":1.9,"y":0.5},{"x":1.93,"y":0.3},{"x":1.96,"y":0.07},{"x":2.0,"y":0.6},{"x":2.02,"y":0.39},{"x":2.07,"y":0.27},{"x":2.09,"y":0.43},{"x":2.13,"y":0.55},{"x":2.18,"y":0.2},{"x":2.22,"y":0.33},{"x":2.26,"y":0.44},{"x":2.28,"y":0.15},{"x":2.33,"y":0.52},{"x":2.36,"y":0.28},{"x":2.4,"y":0.12},{"x":2.44,"y":0.47},{"x":2.48,"y":0.66},{"x":2.42,"y":0.82},{"x":2.36,"y":0.95},{"x":2.25,"y":0.77},{"x":2.17,"y":0.92},{"x":2.1,"y":1.08},{"x":1.99,"y":0.97},{"x":1.9,"y":0.93},{"x":1.82,"y":0.99},{"x":1.72,"y":0.73},{"x":1.68,"y":1.12},{"x":1.62,"y":0.63},{"x":2.26,"y":1.15},{"x":2.4,"y":1.2},{"x":1.9,"y":1.24},{"x":2.15,"y":1.25}
],
"t":[
{"x":-1.77,"y":2.35},{"x":-1.94,"y":2.29},{"x":-2.01,"y":2.06},{"x":-1.57,"y":1.97},{"x":-1.44,"y":1.92},{"x":-1.31,"y":1.95},{"x":-1.19,"y":2.07},{"x":-1.11,"y":2.17},{"x":-1.02,"y":2.17},{"x":-0.91,"y":2.23},{"x":-1.0,"y":1.99},{"x":-1.01,"y":1.87},{"x":-0.95,"y":1.81},{"x":-1.65,"y":1.73},{"x":-1.45,"y":1.77},{"x":-1.43,"y":1.74},{"x":-1.35,"y":1.71},{"x":-1.29,"y":1.73},{"x":-1.39,"y":1.62},{"x":-2.43,"y":1.51},{"x":-2.16,"y":1.55},{"x":-2.14,"y":1.56},{"x":-1.79,"y":1.5},{"x":-1.75,"y":1.45},{"x":-1.5,"y":1.46},{"x":-1.37,"y":1.49},{"x":-1.55,"y":1.36},{"x":-1.28,"y":1.39},{"x":-1.28,"y":1.35},{"x":-1.05,"y":1.31},{"x":-1.07,"y":1.53},{"x":-1.02,"y":1.56},{"x":-1.0,"y":1.61},{"x":-0.97,"y":1.64},{"x":-0.91,"y":1.65},{"x":-0.89,"y":1.53},{"x":-0.8,"y":1.6},{"x":-0.69,"y":1.74},{"x":-0.65,"y":2.02},{"x":-0.81,"y":2.38},{"x":-0.78,"y":2.19},{"x":-1.1,"y":1.6},{"x":-1.06,"y":1.32},
{"x":-0.86,"y":1.55},{"x":-0.82,"y":1.52},{"x":-0.78,"y":1.48},{"x":-0.78,"y":1.41},{"x":-0.7,"y":1.32},{"x":-0.7,"y":1.44},{"x":-0.66,"y":1.37},{"x":-0.64,"y":1.49},{"x":-0.67,"y":1.55},{"x":-0.7,"y":2.11},{"x":-0.71,"y":2.05},{"x":-0.68,"y":1.96},{"x":-0.66,"y":1.92},{"x":-0.71,"y":1.86},{"x":-0.68,"y":1.74},{"x":-0.65,"y":1.69},{"x":-0.7,"y":1.64},
{"x":-0.72,"y":1.35},{"x":-0.74,"y":1.42},{"x":-0.69,"y":1.47},{"x":-0.71,"y":1.52},{"x":-0.67,"y":1.6},{"x":-0.65,"y":1.65},{"x":-0.62,"y":1.71},{"x":-0.63,"y":1.8},{"x":-0.05,"y":1.33},{"x":-0.04,"y":1.4},{"x":-0.06,"y":1.46},{"x":-0.13,"y":1.58},{"x":-0.16,"y":1.66},{"x":-0.19,"y":1.73},{"x":-0.16,"y":1.82},{"x":-0.2,"y":1.89},
{"x":0.03,"y":1.36},{"x":0.04,"y":1.47},{"x":0.03,"y":1.55},{"x":0.05,"y":1.65},{"x":0.07,"y":1.78},{"x":0.6,"y":1.42},{"x":0.62,"y":1.53},{"x":0.58,"y":1.58},{"x":0.57,"y":1.66},{"x":0.54,"y":1.72},{"x":0.49,"y":1.83},{"x":0.47,"y":1.93},{"x":0.68,"y":1.38},{"x":0.66,"y":1.45},
{"x":-0.49,"y":3.87},{"x":-0.83,"y":3.62},{"x":0.09,"y":3.53},{"x":0.67,"y":3.53},{"x":-0.59,"y":3.41},{"x":-0.59,"y":3.37},{"x":-0.81,"y":3.31},{"x":-0.74,"y":3.31},{"x":-0.36,"y":3.35},{"x":-0.47,"y":3.22},{"x":0.26,"y":3.38},{"x":0.76,"y":3.27},{"x":0.17,"y":3.14},{"x":0.38,"y":3.21},{"x":1.11,"y":3.08},{"x":2.36,"y":3.43},{"x":-0.36,"y":2.9},{"x":0.71,"y":2.9},{"x":-0.55,"y":2.87},{"x":-0.59,"y":2.83},{"x":-0.56,"y":2.75},{"x":-0.53,"y":2.73},{"x":-0.5,"y":2.69},{"x":-0.46,"y":2.61},{"x":-0.62,"y":2.63},{"x":-0.63,"y":2.6},{"x":-0.64,"y":2.54},{"x":-0.27,"y":2.56},{"x":-0.23,"y":2.52},{"x":-0.28,"y":2.52},{"x":-0.58,"y":2.48},{"x":-0.42,"y":2.45},
{"x":-0.28,"y":2.31},{"x":-0.24,"y":2.32},{"x":-0.16,"y":2.16},{"x":-0.15,"y":2.12},{"x":-0.25,"y":2.06},{"x":-0.18,"y":1.96},{"x":-0.12,"y":1.87},{"x":-0.08,"y":1.82},{"x":-0.15,"y":1.76},{"x":-0.08,"y":1.69},{"x":-0.12,"y":1.61},{"x":-0.06,"y":1.55},{"x":-0.08,"y":1.47},{"x":-0.11,"y":1.37},{"x":0.01,"y":1.59},{"x":0.03,"y":1.42},{"x":0,"y":1.35},
{"x":-0.66,"y":1.33},{"x":-0.59,"y":1.33},{"x":-0.52,"y":1.33},{"x":-0.45,"y":1.33},{"x":-0.38,"y":1.33},{"x":-0.31,"y":1.33},{"x":-0.24,"y":1.33},{"x":-0.17,"y":1.33},{"x":-0.1,"y":1.33},
{"x":-0.62,"y":1.38},{"x":-0.55,"y":1.38},{"x":-0.48,"y":1.38},{"x":-0.41,"y":1.38},{"x":-0.34,"y":1.38},{"x":-0.27,"y":1.38},{"x":-0.2,"y":1.38},{"x":-0.13,"y":1.38},
{"x":-0.66,"y":1.43},{"x":-0.59,"y":1.43},{"x":-0.52,"y":1.43},{"x":-0.45,"y":1.43},{"x":-0.38,"y":1.43},{"x":-0.31,"y":1.43},{"x":-0.24,"y":1.43},{"x":-0.17,"y":1.43},{"x":-0.1,"y":1.43},
{"x":-0.62,"y":1.48},{"x":-0.55,"y":1.48},{"x":-0.48,"y":1.48},{"x":-0.41,"y":1.48},{"x":-0.34,"y":1.48},{"x":-0.27,"y":1.48},{"x":-0.2,"y":1.48},{"x":-0.13,"y":1.48},
{"x":-0.63,"y":1.53},{"x":-0.56,"y":1.53},{"x":-0.49,"y":1.53},{"x":-0.42,"y":1.53},{"x":-0.35,"y":1.53},{"x":-0.28,"y":1.53},{"x":-0.21,"y":1.53},{"x":-0.14,"y":1.53},
{"x":-0.59,"y":1.58},{"x":-0.52,"y":1.58},{"x":-0.45,"y":1.58},{"x":-0.38,"y":1.58},{"x":-0.31,"y":1.58},{"x":-0.24,"y":1.58},{"x":-0.17,"y":1.58},
{"x":-0.59,"y":1.63},{"x":-0.52,"y":1.63},{"x":-0.45,"y":1.63},{"x":-0.38,"y":1.63},{"x":-0.31,"y":1.63},{"x":-0.24,"y":1.63},{"x":-0.17,"y":1.63},
{"x":-0.55,"y":1.68},{"x":-0.48,"y":1.68},{"x":-0.41,"y":1.68},{"x":-0.34,"y":1.68},{"x":-0.27,"y":1.68},{"x":-0.2,"y":1.68},
{"x":-0.59,"y":1.73},{"x":-0.52,"y":1.73},{"x":-0.45,"y":1.73},{"x":-0.38,"y":1.73},{"x":-0.31,"y":1.73},{"x":-0.24,"y":1.73},
{"x":-0.55,"y":1.78},{"x":-0.48,"y":1.78},{"x":-0.41,"y":1.78},{"x":-0.34,"y":1.78},{"x":-0.27,"y":1.78},{"x":-0.2,"y":1.78},
{"x":-0.58,"y":1.83},{"x":-0.51,"y":1.83},{"x":-0.44,"y":1.83},{"x":-0.37,"y":1.83},{"x":-0.3,"y":1.83},{"x":-0.23,"y":1.83},
{"x":-0.55,"y":1.88},{"x":-0.48,"y":1.88},{"x":-0.41,"y":1.88},{"x":-0.34,"y":1.88},{"x":-0.26,"y":1.88},
{"x":-0.58,"y":1.93},{"x":-0.5,"y":1.93},{"x":-0.43,"y":1.93},{"x":-0.36,"y":1.93},{"x":-0.29,"y":1.93},{"x":-0.22,"y":1.93},
{"x":-0.62,"y":1.98},{"x":-0.54,"y":1.98},{"x":-0.47,"y":1.98},{"x":-0.39,"y":1.98},{"x":-0.32,"y":1.98},{"x":-0.25,"y":1.98},
{"x":-0.57,"y":2.03},{"x":-0.5,"y":2.03},{"x":-0.42,"y":2.03},{"x":-0.35,"y":2.03},{"x":-0.28,"y":2.03},
{"x":-0.6,"y":2.08},{"x":-0.53,"y":2.08},{"x":-0.45,"y":2.08},{"x":-0.38,"y":2.08},{"x":-0.31,"y":2.08},
{"x":-0.56,"y":2.13},{"x":-0.48,"y":2.13},{"x":-0.4,"y":2.13},{"x":-0.33,"y":2.13},
{"x":-0.59,"y":2.18},{"x":-0.51,"y":2.18},{"x":-0.44,"y":2.18},{"x":-0.36,"y":2.18},
{"x":-0.55,"y":2.23},{"x":-0.47,"y":2.23},{"x":-0.39,"y":2.23},
{"x":-0.58,"y":2.28},{"x":-0.5,"y":2.28},{"x":-0.43,"y":2.28},{"x":-0.33,"y":2.28},
{"x":-0.54,"y":2.33},{"x":-0.46,"y":2.33},{"x":-0.38,"y":2.33},
{"x":-0.57,"y":2.38},{"x":-0.49,"y":2.38},{"x":-0.41,"y":2.38},
{"x":-0.53,"y":2.43},{"x":-0.45,"y":2.43},
{"x":0.06,"y":1.33},{"x":0.13,"y":1.33},{"x":0.2,"y":1.33},{"x":0.27,"y":1.33},{"x":0.34,"y":1.33},{"x":0.41,"y":1.33},{"x":0.48,"y":1.33},{"x":0.55,"y":1.33},{"x":0.62,"y":1.33},
{"x":0.09,"y":1.38},{"x":0.16,"y":1.38},{"x":0.23,"y":1.38},{"x":0.3,"y":1.38},{"x":0.37,"y":1.38},{"x":0.44,"y":1.38},{"x":0.51,"y":1.38},{"x":0.58,"y":1.38},
{"x":0.06,"y":1.43},{"x":0.13,"y":1.43},{"x":0.2,"y":1.43},{"x":0.27,"y":1.43},{"x":0.34,"y":1.43},{"x":0.41,"y":1.43},{"x":0.48,"y":1.43},{"x":0.55,"y":1.43},
{"x":0.09,"y":1.48},{"x":0.16,"y":1.48},{"x":0.23,"y":1.48},{"x":0.3,"y":1.48},{"x":0.37,"y":1.48},{"x":0.44,"y":1.48},{"x":0.51,"y":1.48},
{"x":0.06,"y":1.53},{"x":0.13,"y":1.53},{"x":0.2,"y":1.53},{"x":0.27,"y":1.53},{"x":0.34,"y":1.53},{"x":0.41,"y":1.53},{"x":0.48,"y":1.53},{"x":0.55,"y":1.53},
{"x":0.09,"y":1.58},{"x":0.16,"y":1.58},{"x":0.23,"y":1.58},{"x":0.3,"y":1.58},{"x":0.37,"y":1.58},{"x":0.44,"y":1.58},{"x":0.51,"y":1.58},
{"x":0.08,"y":1.63},{"x":0.15,"y":1.63},{"x":0.22,"y":1.63},{"x":0.29,"y":1.63},{"x":0.36,"y":1.63},{"x":0.43,"y":1.63},{"x":0.5,"y":1.63},
{"x":0.12,"y":1.68},{"x":0.19,"y":1.68},{"x":0.26,"y":1.68},{"x":0.33,"y":1.68},{"x":0.4,"y":1.68},{"x":0.47,"y":1.68},
{"x":0.08,"y":1.73},{"x":0.16,"y":1.73},{"x":0.23,"y":1.73},{"x":0.3,"y":1.73},{"x":0.37,"y":1.73},{"x":0.45,"y":1.73},
{"x":0.13,"y":1.78},{"x":0.2,"y":1.78},{"x":0.27,"y":1.78},{"x":0.35,"y":1.78},{"x":0.42,"y":1.78},{"x":0.52,"y":1.78},
{"x":0.1,"y":1.83},{"x":0.18,"y":1.83},{"x":0.25,"y":1.83},{"x":0.33,"y":1.83},{"x":0.4,"y":1.83},
{"x":0.15,"y":1.88},{"x":0.22,"y":1.88},{"x":0.3,"y":1.88},{"x":0.38,"y":1.88},{"x":0.46,"y":1.88},
{"x":0.12,"y":1.93},{"x":0.2,"y":1.93},{"x":0.35,"y":1.93},
{"x":0.48,"y":2.77},{"x":0.39,"y":2.68},{"x":0.47,"y":2.71},{"x":0.57,"y":2.71},{"x":0.63,"y":2.73},{"x":0.81,"y":2.69},{"x":0.43,"y":2.61},{"x":0.51,"y":2.61},{"x":0.59,"y":2.61},{"x":0.16,"y":2.57},{"x":0.23,"y":2.55},{"x":0.28,"y":2.54},{"x":0.49,"y":2.54},{"x":0.58,"y":2.48},{"x":0.74,"y":2.56},{"x":0.7,"y":2.45},{"x":0.76,"y":2.44},{"x":0.13,"y":2.4},{"x":0.24,"y":2.37},{"x":0.42,"y":2.36},{"x":0.33,"y":2.34},{"x":0.56,"y":2.37},{"x":0.55,"y":2.33},{"x":0.86,"y":2.3},{"x":0.09,"y":2.27},{"x":0.16,"y":2.24},{"x":0.16,"y":2.2},{"x":0.25,"y":2.29},{"x":0.28,"y":2.28},{"x":0.35,"y":2.3},{"x":0.41,"y":2.29},{"x":0.47,"y":2.29},{"x":0.51,"y":2.28},{"x":0.55,"y":2.21},{"x":0.65,"y":2.17},{"x":0.23,"y":2.15},{"x":0.31,"y":2.12},{"x":0.27,"y":2.19},{"x":0.38,"y":2.18},{"x":0.43,"y":2.18},{"x":0.14,"y":2.08},{"x":0.37,"y":2.11},{"x":0.41,"y":2.07},{"x":0.53,"y":2.11},{"x":0.57,"y":2.11},{"x":0.82,"y":2.08},{"x":0.65,"y":1.98},{"x":0.74,"y":1.98},{"x":0.84,"y":1.91},{"x":0.09,"y":1.87},{"x":0.29,"y":1.99},{"x":0.43,"y":2.0},{"x":0.51,"y":2.0},{"x":0.61,"y":1.93},{"x":0.67,"y":1.89},{"x":0.57,"y":1.96},{"x":0.74,"y":1.85},{"x":0.61,"y":1.83},{"x":0.53,"y":1.85},{"x":0.88,"y":1.75},{"x":0.88,"y":1.72},{"x":0.69,"y":1.67},{"x":0.65,"y":1.63},{"x":0.8,"y":1.64},{"x":0.72,"y":1.56},{"x":0.76,"y":1.52},{"x":0.68,"y":1.49},{"x":0.88,"y":1.58},{"x":0.82,"y":1.48},{"x":0.86,"y":1.44},{"x":0.9,"y":1.37},{"x":0.8,"y":1.39},{"x":0.74,"y":1.37},{"x":0.65,"y":1.34},{"x":0.7,"y":1.33},{"x":0.62,"y":1.47},{"x":1.08,"y":1.4},
{"x":1.22,"y":2.75},{"x":1.09,"y":2.64},{"x":0.94,"y":2.59},{"x":0.98,"y":2.53},{"x":1.01,"y":2.52},{"x":1.86,"y":2.6},{"x":0.94,"y":2.35},{"x":0.96,"y":2.35},{"x":1.69,"y":2.27},{"x":1.98,"y":2.23},{"x":1.54,"y":2.17},{"x":1.52,"y":2.1},{"x":2.13,"y":2.14},{"x":2.24,"y":2.12},{"x":1.94,"y":2.02},{"x":1.88,"y":1.95},{"x":0.92,"y":2.14},{"x":1.09,"y":1.93},{"x":1.38,"y":1.93},{"x":1.07,"y":1.85},{"x":1.1,"y":1.86},{"x":1.2,"y":1.85},{"x":1.35,"y":1.8},{"x":1.43,"y":1.8},{"x":0.94,"y":1.77},{"x":0.98,"y":1.76},{"x":0.92,"y":1.72},{"x":1.2,"y":1.7},{"x":1.46,"y":1.67},{"x":1.84,"y":1.68},{"x":1.96,"y":1.67},{"x":1.85,"y":1.59},{"x":1.7,"y":1.63},{"x":2.13,"y":1.62},{"x":1.13,"y":1.61},{"x":1.04,"y":1.58},{"x":1.01,"y":1.55},{"x":0.92,"y":1.57},{"x":1.27,"y":1.56},{"x":1.31,"y":1.51},{"x":1.16,"y":1.51},{"x":0.94,"y":1.5},{"x":1.52,"y":1.48},{"x":1.56,"y":1.49},{"x":2.32,"y":1.48},{"x":1.0,"y":1.44},{"x":0.97,"y":1.41},{"x":0.92,"y":1.39},{"x":1.58,"y":1.4},{"x":1.48,"y":1.37},{"x":1.47,"y":1.35},{"x":2.21,"y":1.41},{"x":2.45,"y":1.43},{"x":1.31,"y":1.37},{"x":1.4,"y":1.33},{"x":1.59,"y":1.34},{"x":1.9,"y":1.36},{"x":2.3,"y":1.32}
]
},
"vconcat":[
{
"width":464,"height":506,
"view":{"fill":"#EBEBEB","stroke":null},
"title":{"text":"A","anchor":"start","frame":"group","dx":-140,"offset":-11,"fontSize":37,"fontWeight":"normal","color":"#333333","baseline":"alphabetic","font":"Liberation Sans"},
"layer":[
{"data":{"name":"gx"},"mark":{"type":"rule","color":"#FFFFFF","strokeWidth":0.55},
 "encoding":{"x":{"field":"x","type":"quantitative","title":"COX_coeffient","scale":{"domain":[-2.77,2.74],"nice":false,"zero":false},
 "axis":{"title":"COX_coeffient","values":[-2,-1,0,1,2],"labelExpr":"'' + datum.value","grid":true,"gridColor":"#FFFFFF","gridWidth":1.1,"domain":false,"tickColor":"#333333","tickSize":3.5,"tickWidth":0.9,"labelColor":"#4D4D4D","labelFontSize":10,"labelPadding":1.5,"titleFontSize":12.5,"titleFontWeight":"normal","titleColor":"#000000","titlePadding":2}}}},
{"data":{"name":"gy"},"mark":{"type":"rule","color":"#FFFFFF","strokeWidth":0.55},
 "encoding":{"y":{"field":"y","type":"quantitative","title":"-log10 P Value","scale":{"domain":[-0.19,4.06],"nice":false,"zero":false},
 "axis":{"title":"-log10 P Value","values":[0,1,2,3,4],"labelExpr":"'' + datum.value","grid":true,"gridColor":"#FFFFFF","gridWidth":1.1,"domain":false,"tickColor":"#333333","tickSize":3.5,"tickWidth":0.9,"labelColor":"#4D4D4D","labelFontSize":10,"labelPadding":1.5,"titleFontSize":12.5,"titleFontWeight":"normal","titleColor":"#000000","titlePadding":2}}}},
{"data":{"name":"f"},"mark":{"type":"circle","size":40,"opacity":1},
 "encoding":{"x":{"field":"x","type":"quantitative","title":"COX_coeffient"},"y":{"field":"y","type":"quantitative","title":"-log10 P Value"},
 "color":{"datum":"FALSE","type":"nominal","scale":{"domain":["FALSE","TRUE"],"range":["#F8766D","#00BFC4"]},
 "legend":{"title":"threshold","orient":"none","legendX":479,"legendY":229,"titleFontSize":12.5,"titleFontWeight":"normal","titleColor":"#000000","labelFontSize":10,"labelColor":"#000000","symbolType":"circle","symbolSize":40,"symbolOpacity":1,"symbolOffset":6,"labelOffset":8,"rowPadding":8,"titlePadding":5,"symbolStrokeWidth":0}}}},
{"data":{"name":"t"},"mark":{"type":"circle","size":40,"opacity":1},
 "encoding":{"x":{"field":"x","type":"quantitative","title":"COX_coeffient"},"y":{"field":"y","type":"quantitative","title":"-log10 P Value"},
 "color":{"datum":"TRUE","type":"nominal"}}}
]
},
{
"width":494,"height":408,
"title":{"text":"B","anchor":"start","frame":"group","dx":-140,"offset":-105,"fontSize":37,"fontWeight":"normal","color":"#333333","baseline":"alphabetic","font":"Liberation Sans"},
"layer":[
{"data":{"values":[{}]},"mark":{"type":"rule","color":"#262626","strokeWidth":2.6},
 "encoding":{"x":{"datum":0.66,"type":"quantitative","title":"K- Node","scale":{"domain":[0.4077,9.31],"nice":false,"zero":false},
  "axis":{"title":"K- Node","values":[1,2,3,4,5,6,7,8,9],"format":"d","domain":false,"grid":false,"tickColor":"#262626","tickWidth":2.6,"tickSize":11,"labelFontSize":24,"labelColor":"#333333","labelPadding":4,"titleFontSize":24,"titleFontWeight":"normal","titleColor":"#333333","titlePadding":19,"titleX":284}},
  "x2":{"datum":9.31},
  "y":{"datum":0.5882,"type":"quantitative","title":"AUC MAX every group","scale":{"domain":[0.5882,0.6906],"nice":false,"zero":false},
  "axis":{"title":"AUC MAX every group","values":[0.6,0.62,0.64,0.66,0.68],"format":".2f","offset":-14,"domain":true,"domainColor":"#262626","domainWidth":2.6,"grid":false,"tickColor":"#262626","tickWidth":2.6,"tickSize":11,"labelFontSize":24,"labelColor":"#333333","labelAngle":-90,"labelAlign":"center","labelBaseline":"bottom","labelPadding":3,"titleFontSize":25,"titleFontWeight":"normal","titleColor":"#333333","titlePadding":13,"titleY":182}}}},
{"data":{"name":"auc"},"mark":{"type":"line","color":"#4AADE3","strokeWidth":3.2},
 "encoding":{"x":{"field":"k","type":"quantitative","title":"K- Node"},"y":{"field":"auc","type":"quantitative","title":"AUC MAX every group"}}},
{"data":{"name":"auc"},"mark":{"type":"circle","size":254,"color":"#FFFFFF","opacity":1},
 "encoding":{"x":{"field":"k","type":"quantitative","title":"K- Node"},"y":{"field":"auc","type":"quantitative","title":"AUC MAX every group"}}},
{"data":{"name":"auc"},"transform":[{"filter":"datum.k != 1"}],"mark":{"type":"circle","size":95,"opacity":1},
 "encoding":{"x":{"field":"k","type":"quantitative","title":"K- Node"},"y":{"field":"auc","type":"quantitative","title":"AUC MAX every group"},
 "color":{"condition":{"test":"datum.k == 6","value":"#4AADE3"},"value":"#F08080"}}},
{"data":{"name":"auc"},"transform":[{"filter":"datum.k == 1"}],"mark":{"type":"point","shape":"circle","size":38,"fill":"#FFFFFF","stroke":"#000000","strokeWidth":2.6,"opacity":1},
 "encoding":{"x":{"field":"k","type":"quantitative","title":"K- Node"},"y":{"field":"auc","type":"quantitative","title":"AUC MAX every group"}}},
{"data":{"values":[{}]},"mark":{"type":"text","text":"Selected Signature","fontSize":25,"color":"#222222","align":"center","baseline":"middle","font":"Liberation Sans"},
 "encoding":{"x":{"datum":4.9,"type":"quantitative"},"y":{"datum":0.7102,"type":"quantitative"}}},
{"data":{"values":[{}]},"mark":{"type":"rule","color":"#111111","strokeWidth":3},
 "encoding":{"x":{"datum":5.685,"type":"quantitative"},"y":{"datum":0.7054,"type":"quantitative"},"x2":{"datum":5.92},"y2":{"datum":0.6951}}},
{"data":{"values":[{}]},"mark":{"type":"point","shape":"M -0.7 -1 L 0 0 L 0.7 -1","size":200,"filled":false,"stroke":"#111111","strokeWidth":3,"angle":-17.6,"opacity":1},
 "encoding":{"x":{"datum":5.92,"type":"quantitative"},"y":{"datum":0.6951,"type":"quantitative"}}}
]
}
]
}
